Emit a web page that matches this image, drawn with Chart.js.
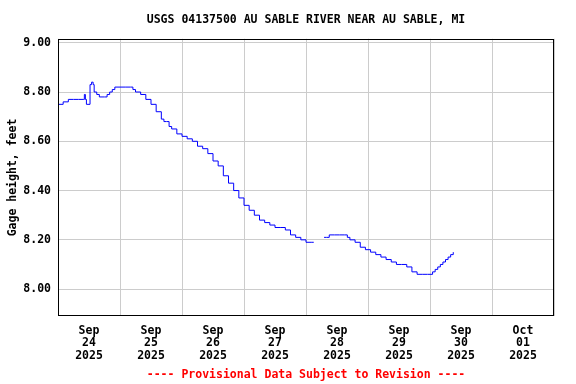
<!DOCTYPE html>
<html>
<head>
<meta charset="utf-8">
<script src="https://cdn.jsdelivr.net/npm/chart.js@4"></script>
<style>
  html, body { margin: 0; padding: 0; background: #fff; }
  #wrap { width: 576px; height: 384px; }
</style>
</head>
<body>
<div id="wrap"><canvas id="gageChart" width="576" height="384"></canvas></div>
<script>
// hours since Sep 24 2025 00:00, gage height in feet (null = gap in record)
const hours = [0, 2, 4, 6, 8, 10, 10.2, 10.6, 11, 12, 12.4, 13, 13.6, 14, 15, 16, 18, 19, 20, 21, 22,
  24, 26, 28, 29, 30, 32, 34, 36, 38, 40, 41, 42, 43, 44, 46, 48, 50, 52, 54, 56, 58, 60, 62, 64,
  66, 68, 70, 72, 74, 76, 78, 80, 82, 84, 86, 88, 90, 92, 94, 96, 98, 99, 100, 103, 104, 105, 107,
  109, 111, 112, 113, 115, 117, 119, 121, 123, 125, 127, 129, 131, 133, 135, 137, 139, 141, 143,
  144, 145, 146, 147, 148, 149, 150, 151, 152, 153];
const stage = [8.75, 8.76, 8.77, 8.77, 8.77, 8.77, 8.79, 8.77, 8.75, 8.75, 8.83, 8.84, 8.83, 8.80, 8.79, 8.78, 8.78, 8.79, 8.80, 8.81, 8.82,
  8.82, 8.82, 8.82, 8.81, 8.80, 8.79, 8.77, 8.75, 8.72, 8.69, 8.68, 8.68, 8.66, 8.65, 8.63, 8.62, 8.61, 8.60, 8.58, 8.57, 8.55, 8.52, 8.50, 8.46,
  8.43, 8.40, 8.37, 8.34, 8.32, 8.30, 8.28, 8.27, 8.26, 8.25, 8.25, 8.24, 8.22, 8.21, 8.20, 8.19, 8.19, 8.19, null, 8.21, 8.21, 8.22, 8.22,
  8.22, 8.22, 8.21, 8.20, 8.19, 8.17, 8.16, 8.15, 8.14, 8.13, 8.12, 8.11, 8.10, 8.10, 8.09, 8.07, 8.06, 8.06, 8.06,
  8.06, 8.07, 8.08, 8.09, 8.10, 8.11, 8.12, 8.13, 8.14, 8.15];

const tickMonths = ['Sep', 'Sep', 'Sep', 'Sep', 'Sep', 'Sep', 'Sep', 'Oct'];
const tickDays = ['24', '25', '26', '27', '28', '29', '30', '01'];
const tickYears = ['2025', '2025', '2025', '2025', '2025', '2025', '2025', '2025'];
const yTicks = [8.0, 8.2, 8.4, 8.6, 8.8, 9.0];

Chart.defaults.font.family = "'DejaVu Sans Mono', monospace";
Chart.defaults.font.weight = 'bold';
Chart.defaults.font.size = 11.5;
Chart.defaults.color = '#000';

const points = hours.map((h, i) => ({ x: h, y: stage[i] }));

// box around the plot area, and title/footer centred over the plot rather than the canvas
const frame = {
  id: 'frame',
  afterLayout(chart) {
    const a = chart.chartArea;
    chart.boxes.forEach(b => {
      if (typeof b._drawArgs === 'function') {
        b.left = a.left;
        b.right = a.right;
        b.width = a.right - a.left;
      }
    });
  },
  afterDraw(chart) {
    const a = chart.chartArea;
    const c = chart.ctx;
    c.save();
    c.strokeStyle = '#000';
    c.lineWidth = 1;
    c.strokeRect(Math.round(a.left) + 0.5, Math.round(a.top) + 0.5,
      Math.round(a.right - a.left) - 1, Math.round(a.bottom - a.top) - 1);
    c.restore();
  }
};

new Chart(document.getElementById('gageChart').getContext('2d'), {
  type: 'line',
  data: {
    datasets: [{
      data: points,
      borderColor: '#0000ff',
      borderWidth: 1,
      pointRadius: 0,
      stepped: true,
      spanGaps: false,
      fill: false
    }]
  },
  options: {
    responsive: false,
    animation: false,
    layout: { padding: { left: 0, right: 22, top: 0, bottom: 0 } },
    plugins: {
      legend: { display: false },
      tooltip: { enabled: false },
      title: {
        display: true,
        text: 'USGS 04137500 AU SABLE RIVER NEAR AU SABLE, MI',
        font: { size: 11.5, weight: 'bold' },
        padding: { top: 13, bottom: 12 }
      },
      subtitle: {
        display: true,
        position: 'bottom',
        text: '---- Provisional Data Subject to Revision ----',
        color: '#ff0000',
        font: { size: 11.5, weight: 'bold' },
        padding: { top: 2, bottom: 2 }
      }
    },
    scales: {
      x: {
        type: 'linear',
        min: 0,
        max: 192,
        afterBuildTicks(scale) {
          const t = [];
          for (let v = 0; v <= 192; v += 12) t.push({ value: v });
          scale.ticks = t;
        },
        afterFit(scale) { scale.height = 50; },
        border: { display: false },
        grid: {
          color: ctx => (ctx.tick && ctx.tick.value % 24 === 0) ? '#cccccc' : 'rgba(0,0,0,0)',
          lineWidth: 1,
          drawTicks: false
        },
        ticks: {
          autoSkip: false,
          maxRotation: 0,
          padding: 8,
          font: { lineHeight: 1.1 },
          callback(v) {
            if (v % 24 !== 12) return '';
            const i = (v - 12) / 24;
            return [tickMonths[i], tickDays[i], tickYears[i]];
          }
        }
      },
      y: {
        min: 7.89,
        max: 9.016,
        afterBuildTicks(scale) {
          scale.ticks = yTicks.map(v => ({ value: v }));
        },
        afterFit(scale) { scale.width = 58; },
        border: { display: false },
        grid: { color: '#cccccc', lineWidth: 1, drawTicks: false },
        ticks: {
          padding: 7,
          callback: v => v.toFixed(2)
        },
        title: {
          display: true,
          text: 'Gage height, feet',
          font: { size: 11.5, weight: 'bold' },
          padding: { top: 6, bottom: 0 }
        }
      }
    }
  },
  plugins: [frame]
});
</script>
</body>
</html>
